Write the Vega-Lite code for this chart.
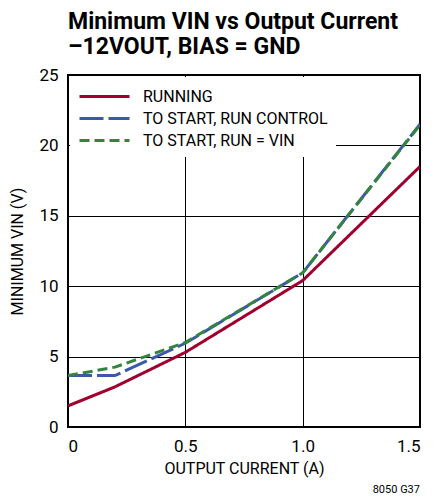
{
  "$schema": "https://vega.github.io/schema/vega-lite/v6.json",
  "width": 352,
  "height": 352,
  "autosize": {"type": "none"},
  "padding": {"left": 68, "top": 75, "right": 15, "bottom": 72},
  "background": "white",
  "title": {
    "text": ["Minimum VIN vs Output Current", "–12VOUT, BIAS = GND"],
    "anchor": "start",
    "frame": "group",
    "font": "Roboto",
    "fontSize": 23,
    "fontWeight": "bold",
    "color": "black",
    "lineHeight": 25,
    "offset": 7
  },
  "config": {
    "view": {"stroke": "black", "strokeWidth": 2},
    "font": "Roboto",
    "axis": {
      "labelFont": "Roboto",
      "titleFont": "Roboto",
      "labelFontSize": 17,
      "titleFontSize": 16,
      "titleFontWeight": "normal",
      "labelColor": "black",
      "titleColor": "black",
      "gridColor": "black",
      "gridOpacity": 1,
      "gridWidth": 1,
      "ticks": false,
      "domain": false
    },
    "legend": {
      "labelFont": "Roboto",
      "labelFontSize": 16,
      "labelColor": "black"
    }
  },
  "datasets": {
    "curves": [
      {"current": 0.0, "vin": 1.5, "series": "RUNNING"},
      {"current": 0.2, "vin": 2.85, "series": "RUNNING"},
      {"current": 0.5, "vin": 5.3, "series": "RUNNING"},
      {"current": 1.0, "vin": 10.4, "series": "RUNNING"},
      {"current": 1.5, "vin": 18.5, "series": "RUNNING"},
      {"current": 0.0, "vin": 3.65, "series": "TO START, RUN CONTROL"},
      {"current": 0.2, "vin": 3.65, "series": "TO START, RUN CONTROL"},
      {"current": 0.5, "vin": 5.95, "series": "TO START, RUN CONTROL"},
      {"current": 1.0, "vin": 10.95, "series": "TO START, RUN CONTROL"},
      {"current": 1.5, "vin": 21.5, "series": "TO START, RUN CONTROL"},
      {"current": 0.0, "vin": 3.65, "series": "TO START, RUN = VIN"},
      {"current": 0.2, "vin": 4.25, "series": "TO START, RUN = VIN"},
      {"current": 0.5, "vin": 6.0, "series": "TO START, RUN = VIN"},
      {"current": 1.0, "vin": 10.95, "series": "TO START, RUN = VIN"},
      {"current": 1.5, "vin": 21.45, "series": "TO START, RUN = VIN"}
    ],
    "note": [{"label": "8050 G37"}]
  },
  "layer": [
    {
      "data": {"name": "curves"},
      "mark": {"type": "line", "strokeWidth": 3, "clip": true},
      "encoding": {
        "x": {
          "field": "current", "type": "quantitative",
          "scale": {"domain": [0, 1.5], "nice": false, "zero": false},
          "axis": {
            "values": [0, 0.5, 1.0, 1.5],
            "labelExpr": "datum.value == 0 ? '0' : format(datum.value, '.1f')",
            "labelPadding": 11,
            "title": "OUTPUT CURRENT (A)",
            "titlePadding": 6
          }
        },
        "y": {
          "field": "vin", "type": "quantitative",
          "scale": {"domain": [0, 25], "nice": false},
          "axis": {
            "values": [0, 5, 10, 15, 20, 25],
            "labelPadding": 10,
            "title": "MINIMUM VIN (V)",
            "titlePadding": 13
          }
        },
        "color": {
          "field": "series", "type": "nominal",
          "scale": {
            "domain": ["RUNNING", "TO START, RUN CONTROL", "TO START, RUN = VIN"],
            "range": ["#a0002e", "#3b58aa", "#34843f"]
          },
          "legend": {
            "title": null,
            "orient": "top-left",
            "offset": 2,
            "padding": 8,
            "fillColor": "white",
            "symbolType": "M-1,0H4",
            "symbolSize": 400,
            "symbolStrokeWidth": 3,
            "labelOffset": 42,
            "rowPadding": 2,
            "labelLimit": 300
          }
        },
        "strokeDash": {
          "field": "series", "type": "nominal",
          "scale": {
            "domain": ["RUNNING", "TO START, RUN CONTROL", "TO START, RUN = VIN"],
            "range": [[1, 0], [24, 5], [10, 5]]
          },
          "legend": null
        },
        "order": {"field": "series", "sort": "ascending"}
      }
    },
    {
      "data": {"name": "note"},
      "mark": {"type": "text", "align": "right", "baseline": "middle", "fontSize": 11, "color": "black"},
      "encoding": {
        "text": {"field": "label"},
        "x": {"datum": 1.5},
        "y": {"datum": -4.5}
      }
    }
  ]
}
